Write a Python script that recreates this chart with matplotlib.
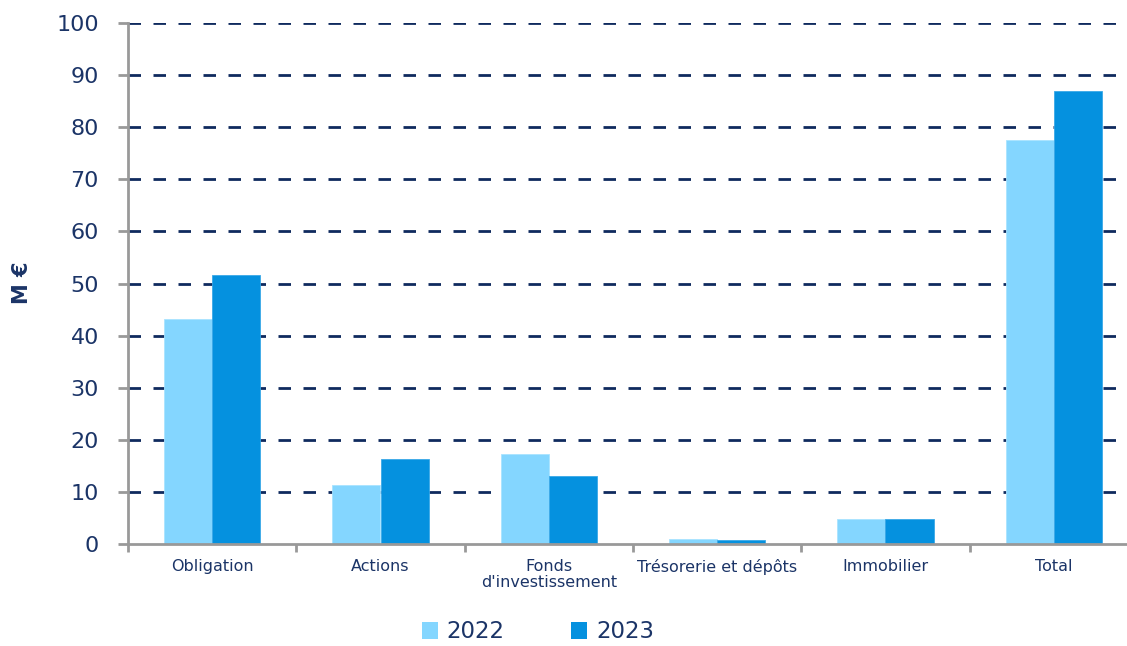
import matplotlib
matplotlib.use("Agg")
import matplotlib.pyplot as plt
import numpy as np
from matplotlib.patches import Patch

categories = ["Obligation", "Actions", "Fonds\nd'investissement", "Trésorerie et dépôts", "Immobilier", "Total"]
values_2022 = [43.2, 11.3, 17.3, 1.0, 4.8, 77.5]
values_2023 = [51.6, 16.3, 13.1, 0.8, 4.8, 87.0]
series_labels = ["2022", "2023"]
y_ticks = [0, 10, 20, 30, 40, 50, 60, 70, 80, 90, 100]

c22 = "#84D6FF"
c23 = "#0591DF"
navy = "#1B3467"
grid_col = "#0F2A5E"
axis_col = "#999999"

fig = plt.figure(figsize=(11.27, 6.46), dpi=100)
ax = fig.add_axes([128/1127, 1-544/646, (1138-128)/1127, (544-23)/646])

x = np.arange(len(categories))
w = 0.286
ax.bar(x - w/2, values_2022, w, color=c22, edgecolor="#A8E3FF", linewidth=0.6, zorder=3)
ax.bar(x + w/2, values_2023, w, color=c23, edgecolor="#3AA8E8", linewidth=0.6, zorder=3)

ax.set_xlim(-0.5, len(categories) - 0.5)
ax.set_ylim(0, 100)
ax.set_yticks(y_ticks)
ax.set_yticklabels([str(t) for t in y_ticks], fontsize=16, color=navy)
for t in y_ticks[1:]:
    ax.axhline(t, color=grid_col, linestyle=(0, (4.5, 4.5)), linewidth=2, zorder=1)

ax.set_xticks(x)
ax.set_xticklabels(categories, fontsize=11.5, color=navy, linespacing=1.1)
ax.set_xticks(np.arange(len(categories) + 1) - 0.5, minor=True)
ax.tick_params(axis="x", which="major", length=0, pad=11)
ax.tick_params(axis="x", which="minor", length=6, width=2, color=axis_col, direction="out")
ax.tick_params(axis="y", length=7, width=2, color=axis_col, pad=14)

for s in ["top", "right"]:
    ax.spines[s].set_visible(False)
for s in ["left", "bottom"]:
    ax.spines[s].set_color(axis_col)
    ax.spines[s].set_linewidth(2)
    ax.spines[s].set_zorder(4)

fig.text(22/1127, 1-283/646, "M €", rotation=90, fontsize=15, fontweight="bold",
         color=navy, ha="center", va="center")

handles = [Patch(facecolor=c22, edgecolor="none"), Patch(facecolor=c23, edgecolor="none")]
fig.legend(handles, series_labels, loc="center", bbox_to_anchor=(538/1127, 1-632/646),
           ncol=2, frameon=False, fontsize=16.5, labelcolor=navy, handlelength=0.7,
           handleheight=0.7, handletextpad=0.4, columnspacing=2.9, borderpad=0.1)

fig.savefig("out.png", dpi=100)
